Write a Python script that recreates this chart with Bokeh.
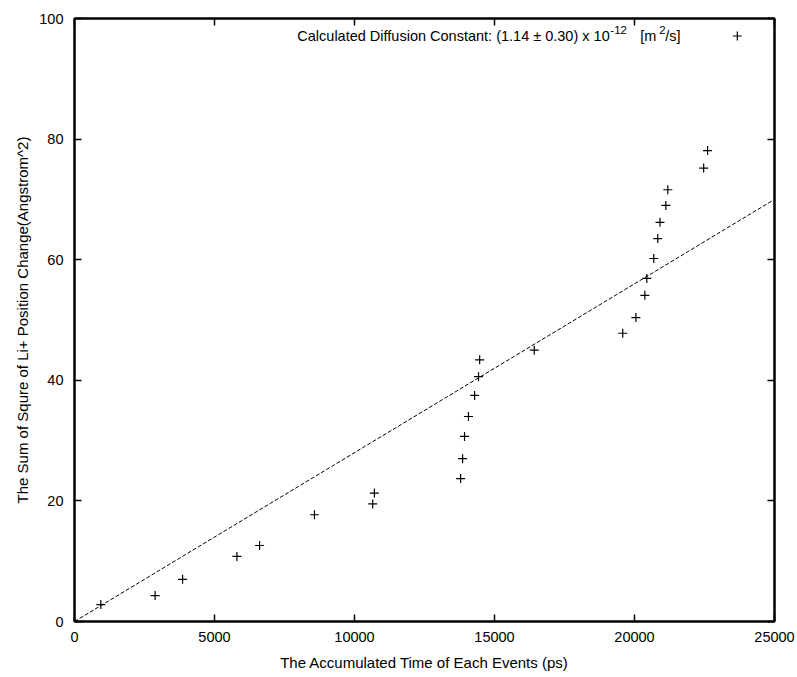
from bokeh.plotting import figure
from bokeh.models import LinearAxis, Label, FixedTicker, Range1d, ColumnDataSource, CustomJSTickFormatter
from bokeh.embed import file_html
from bokeh.resources import INLINE

# ---- data ----
time_ps = [940, 2880, 3860, 5800, 6610, 8570, 10650, 10710,
           13790, 13860, 13930, 14070, 14290, 14430, 14470,
           16420,
           19580, 20050, 20370, 20440, 20690, 20830, 20910, 21120, 21190,
           22470, 22610]
msd = [2.8, 4.3, 7.0, 10.8, 12.6, 17.7, 19.5, 21.3,
       23.7, 27.0, 30.7, 34.0, 37.5, 40.6, 43.4,
       45.0,
       47.8, 50.4, 54.1, 56.9, 60.2, 63.5, 66.2, 69.0, 71.6,
       75.2, 78.1]
fit_x = [0, 25000]
fit_y = [0, 70]
x_ticks = [0, 5000, 10000, 15000, 20000, 25000]
y_ticks = [0, 20, 40, 60, 80, 100]

FONT = "Liberation Sans"
FS = "14.5px"
TS = "15px"

p = figure(width=797, height=677, output_backend="svg", toolbar_location=None,
           x_range=Range1d(0, 25000), y_range=Range1d(0, 100),
           min_border_left=74, min_border_right=23, min_border_top=18, min_border_bottom=56)
p.background_fill_color = "white"
p.border_fill_color = "white"
p.outline_line_color = "black"
p.outline_line_width = 2
p.grid.visible = False

def style_axis(ax):
    ax.axis_line_color = "black"
    ax.axis_line_width = 2
    ax.major_tick_line_color = "black"
    ax.major_tick_line_width = 1.5
    ax.major_tick_in = 7
    ax.major_tick_out = 0
    ax.minor_tick_line_color = None
    ax.major_label_text_font = FONT
    ax.major_label_text_font_size = FS
    ax.major_label_text_color = "black"
    ax.axis_label_text_font = FONT
    ax.axis_label_text_font_size = TS
    ax.axis_label_text_font_style = "normal"
    ax.axis_label_text_color = "black"

style_axis(p.xaxis[0])
style_axis(p.yaxis[0])
p.xaxis[0].ticker = FixedTicker(ticks=x_ticks)
p.yaxis[0].ticker = FixedTicker(ticks=y_ticks)
p.xaxis[0].axis_label = "The Accumulated Time of Each Events (ps)"
p.yaxis[0].axis_label = "The Sum of Squre of Li+ Position Change(Angstrom^2)"
p.xaxis[0].major_label_standoff = 10
p.xaxis[0].axis_label_standoff = 9
p.yaxis[0].major_label_standoff = 11
p.yaxis[0].axis_label_standoff = 5

blank = CustomJSTickFormatter(code="return '';")
top = LinearAxis(ticker=FixedTicker(ticks=x_ticks), formatter=blank)
style_axis(top)
top.major_label_standoff = 0
p.add_layout(top, "above")
right = LinearAxis(ticker=FixedTicker(ticks=y_ticks), formatter=blank)
style_axis(right)
right.major_label_standoff = 0
p.add_layout(right, "right")

# fit line
p.line(fit_x, fit_y, line_color="black", line_width=1, line_dash="4 2")

# data points
src = ColumnDataSource(dict(x=time_ps, y=msd))
p.scatter("x", "y", source=src, marker="cross", size=9, line_color="black", line_width=1.2)

# legend (gnuplot style: text then key sample to its right)
leg_x, leg_y = 7958, 97.1
pieces = [
    ("Calculated Diffusion Constant: (1.14 \u00b1 0.30) x 10", 0, 0, FS),
    ("-12", 313, 6, "11.5px"),
    ("[m", 343, 0, FS),
    ("2", 362, 6, "11.5px"),
    ("/s]", 368, 0, FS),
]
for txt, dx, dy, fs in pieces:
    p.add_layout(Label(x=leg_x, y=leg_y, x_offset=dx, y_offset=dy, text=txt,
                       text_font=FONT, text_font_size=fs, text_color="black",
                       text_baseline="middle", text_align="left"))
key_x = leg_x + 440 * 25000 / 700
p.scatter([key_x], [leg_y], marker="cross", size=9, line_color="black", line_width=1.2)

open("out.html", "w").write(file_html(p, INLINE))
